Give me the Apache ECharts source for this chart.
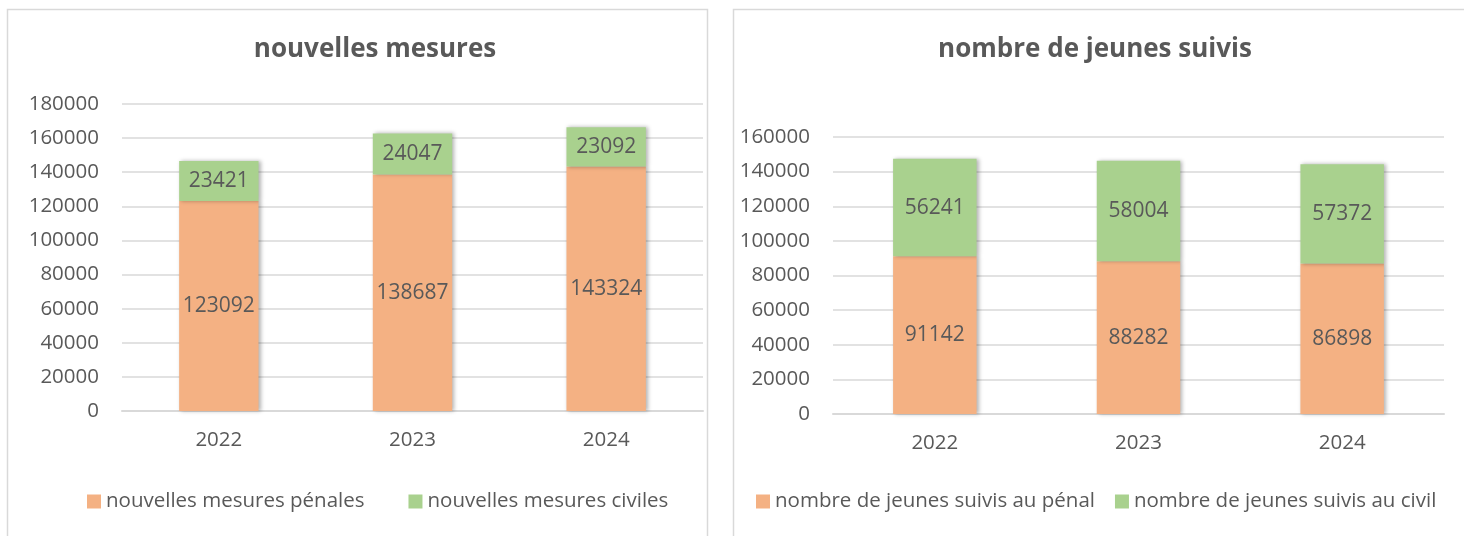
<!DOCTYPE html>
<html>
<head>
<meta charset="utf-8">
<script src="https://cdn.jsdelivr.net/npm/echarts@6/dist/echarts.min.js"></script>
<style>
  html, body { margin: 0; padding: 0; background: #fff; }
  #chart { width: 1464px; height: 536px; }
</style>
</head>
<body>
<div id="chart"></div>
<script>
// données
const years = ['2022', '2023', '2024']
const mesuresPenales = [123092, 138687, 143324]
const mesuresCiviles = [23421, 24047, 23092]
const jeunesPenal = [91142, 88282, 86898]
const jeunesCivil = [56241, 58004, 57372]

const orange = '#F4B183'
const green = '#A9D18E'
const gray = '#595959'
const font = 'Open Sans'

const chart = echarts.init(document.getElementById('chart'))

function barSerie(name, data, color, stack, axis) {
  return {
    name: name,
    type: 'bar',
    stack: stack,
    xAxisIndex: axis,
    yAxisIndex: axis,
    barWidth: '41%',
    data: data,
    itemStyle: {
      color: color,
      shadowBlur: 4,
      shadowColor: 'rgba(0,0,0,0.3)',
      shadowOffsetX: 2
    },
    label: {
      show: true,
      position: 'inside',
      color: gray,
      fontSize: 21,
      fontFamily: font
    }
  }
}

function xAx(grid) {
  return {
    type: 'category',
    gridIndex: grid,
    data: years,
    axisTick: { show: false },
    axisLine: { lineStyle: { color: '#D9D9D9', width: 2 } },
    axisLabel: { color: gray, fontSize: 20.5, fontFamily: font, margin: 19 }
  }
}

function yAx(grid, max) {
  return {
    type: 'value',
    gridIndex: grid,
    min: 0,
    max: max,
    interval: 20000,
    axisTick: { show: false },
    axisLine: { show: false },
    splitLine: { lineStyle: { color: '#D9D9D9', width: 1.5 } },
    axisLabel: {
      color: gray, fontSize: 20.5, fontFamily: font, margin: 23,
      formatter: function (value) {
        return String(value)
      }
    }
  }
}

chart.setOption({
  animation: false,
  graphic: [
    { type: 'rect', shape: { x: 7.5, y: 9.5, width: 700, height: 540 },
      style: { fill: 'none', stroke: '#D9D9D9', lineWidth: 1.5 } },
    { type: 'rect', shape: { x: 733.5, y: 9.5, width: 740, height: 540 },
      style: { fill: 'none', stroke: '#D9D9D9', lineWidth: 1.5 } }
  ],
  title: [
    { text: 'nouvelles mesures', left: 370, top: 32, textAlign: 'center',
      textStyle: { color: gray, fontSize: 26, fontWeight: 'bold', fontFamily: font } },
    { text: 'nombre de jeunes suivis', left: 1090, top: 32, textAlign: 'center',
      textStyle: { color: gray, fontSize: 26, fontWeight: 'bold', fontFamily: font } }
  ],
  legend: [
    { data: ['nouvelles mesures pénales', 'nouvelles mesures civiles'],
      left: 82, top: 486, icon: 'rect', itemWidth: 14, itemHeight: 14, itemGap: 44,
      textStyle: { color: gray, fontSize: 20.5, fontFamily: font } },
    { data: ['nombre de jeunes suivis au pénal', 'nombre de jeunes suivis au civil'],
      left: 751, top: 486, icon: 'rect', itemWidth: 14, itemHeight: 14, itemGap: 20,
      textStyle: { color: gray, fontSize: 20.5, fontFamily: font } }
  ],
  grid: [
    { left: 122, width: 581, top: 104, bottom: 125 },
    { left: 833, width: 611, top: 137, bottom: 122 }
  ],
  xAxis: [xAx(0), xAx(1)],
  yAxis: [yAx(0, 180000), yAx(1, 160000)],
  series: [
    barSerie('nouvelles mesures pénales', mesuresPenales, orange, 'a', 0),
    barSerie('nouvelles mesures civiles', mesuresCiviles, green, 'a', 0),
    barSerie('nombre de jeunes suivis au pénal', jeunesPenal, orange, 'b', 1),
    barSerie('nombre de jeunes suivis au civil', jeunesCivil, green, 'b', 1)
  ]
})
</script>
</body>
</html>
